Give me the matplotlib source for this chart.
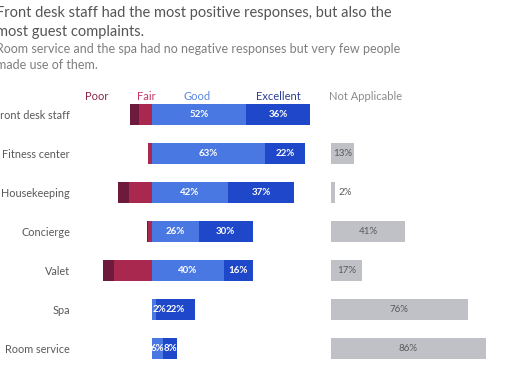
import numpy as np
import matplotlib.pyplot as plt

plt.rcParams['font.family'] = ['Lato', 'DejaVu Sans']

# survey results, % of responses
categories = ['Front desk staff', 'Fitness center', 'Housekeeping', 'Concierge',
              'Valet', 'Spa', 'Room service']
poor = [5, 0, 6, 1, 6, 0, 0]
fair = [7, 2, 13, 2, 21, 0, 0]
good = [52, 63, 42, 26, 40, 2, 6]
excellent = [36, 22, 37, 30, 16, 22, 8]
not_applicable = [0, 13, 2, 41, 17, 76, 86]

c_poor = '#6e1a3c'
c_fair = '#a8284f'
c_good = '#4a78e2'
c_exc = '#1f47c9'
c_na = '#c0c1c6'

W, H = 510, 382
fig = plt.figure(figsize=(W / 100, H / 100), dpi=100)

# 1% ~ 1.8 px, zero line at x=152 px
px = 1.8
x0 = 152
ax_l, ax_r = 95, 320
ax = fig.add_axes([ax_l / W, (H - 368) / H, (ax_r - ax_l) / W, 273 / H])
ax.set_xlim(-(x0 - ax_l) / px, (ax_r - x0) / px)
ax.set_ylim(6.5, -0.5)

na_l, na_r = 331, 505
ax2 = fig.add_axes([na_l / W, (H - 368) / H, (na_r - na_l) / W, 273 / H])
ax2.set_xlim(0, (na_r - na_l) / px)
ax2.set_ylim(6.5, -0.5)

y = np.arange(len(categories))
poor = np.array(poor)
fair = np.array(fair)
good = np.array(good)
excellent = np.array(excellent)
h = 0.56

ax.barh(y, -fair, height=h, color=c_fair)
ax.barh(y, -poor, left=-fair, height=h, color=c_poor)
ax.barh(y, good, height=h, color=c_good)
ax.barh(y, excellent, left=good, height=h, color=c_exc)

for i in range(len(categories)):
    if good[i] < 4:
        ax.text(0.3, i, f'{good[i]}%', color='white', fontsize=7,
                fontweight='bold', ha='left', va='center')
    else:
        ax.text(good[i] / 2, i, f'{good[i]}%', color='white', fontsize=7,
                fontweight='bold', ha='center', va='center')
    ax.text(good[i] + excellent[i] / 2, i, f'{excellent[i]}%', color='white',
            fontsize=7, fontweight='bold', ha='center', va='center')

ax2.barh(y, not_applicable, height=h, color=c_na)
for i, v in enumerate(not_applicable):
    if v == 0:
        continue
    if v < 8:
        ax2.text(v + 2, i, f'{v}%', color='#595959', fontsize=7,
                 ha='left', va='center')
    else:
        ax2.text(v / 2, i, f'{v}%', color='#595959', fontsize=7,
                 ha='center', va='center')

ax.set_yticks(y)
ax.set_yticklabels(categories, fontsize=7.8, color='#595959')
ax.tick_params(axis='y', length=0, pad=(ax_l - 70) * 0.72)
ax.tick_params(axis='x', bottom=False, labelbottom=False)
ax2.set_yticks([])
ax2.set_xticks([])
for a in (ax, ax2):
    for s in a.spines.values():
        s.set_visible(False)
    a.patch.set_alpha(0)

# column headers
hdr_y = 1 - 96 / H
fig.text(97 / W, hdr_y, 'Poor', color='#8a2445', fontsize=8, ha='center', va='center')
fig.text(146 / W, hdr_y, 'Fair', color='#c2376b', fontsize=8, ha='center', va='center')
fig.text(197 / W, hdr_y, 'Good', color='#5a86e4', fontsize=8, ha='center', va='center')
fig.text(278 / W, hdr_y, 'Excellent', color='#2b3f98', fontsize=8, ha='center', va='center')
fig.text(366 / W, hdr_y, 'Not Applicable', color='#8c8c8c', fontsize=8, ha='center', va='center')

fig.text(-4 / W, 1 - 13 / H, 'Front desk staff had the most positive responses, but also the',
         fontsize=10.5, color='#555555', va='center')
fig.text(-4 / W, 1 - 32 / H, 'most guest complaints.',
         fontsize=10.5, color='#555555', va='center')
fig.text(-4 / W, 1 - 49 / H, 'Room service and the spa had no negative responses but very few people',
         fontsize=9, color='#7f7f7f', va='center')
fig.text(-4 / W, 1 - 65 / H, 'made use of them.',
         fontsize=9, color='#7f7f7f', va='center')

fig.savefig('out.png', dpi=100)
